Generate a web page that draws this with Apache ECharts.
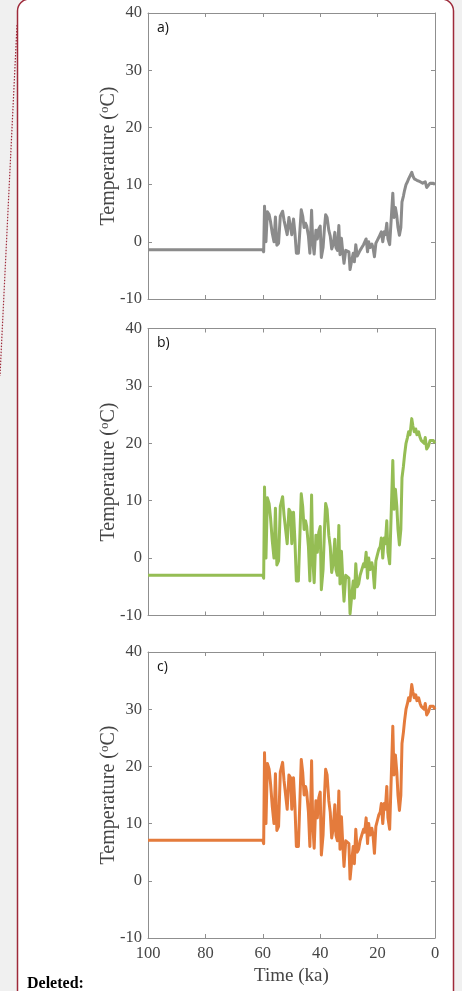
<!DOCTYPE html>
<html>
<head>
<meta charset="utf-8">
<title>Temperature (ka)</title>
<script src="https://cdn.jsdelivr.net/npm/echarts@6/dist/echarts.min.js"></script>
<style>
  html, body { margin: 0; padding: 0; background: #f0f0f0; }
  #chart { width: 462px; height: 991px; }
</style>
</head>
<body>
<div id="chart"></div>
<script>
// Time before present (ka), shared by the three temperature records
const timeKa = [100, 60.0, 59.7, 59.4, 58.9, 58.4, 57.8, 57.3, 56.7, 56.1, 55.6, 55.1, 54.5, 53.9, 53.1, 52.6, 52.0, 51.5, 50.9, 50.3,
  49.9, 49.3, 48.8, 48.3, 47.6, 46.6, 46.1, 45.6, 45.1, 44.7, 44.1, 43.6, 43.0, 42.6, 42.1, 41.5, 41.0, 40.5, 40.0, 39.6,
  39.0, 38.5, 38.1, 37.6, 37.0, 36.5, 36.0, 35.5, 34.9, 34.5, 34.0, 33.5, 33.1, 32.6, 32.1, 31.7, 31.1, 30.6, 30.0, 29.6,
  29.1, 28.5, 28.1, 27.6, 27.1, 26.6, 26.1, 25.5, 24.9, 24.5, 24.0, 23.5, 23.1, 22.6, 22.0, 21.6, 21.1, 20.6, 20.1, 19.6,
  19.1, 18.7, 18.2, 17.7, 17.3, 16.8, 16.4, 15.8, 15.2, 14.7, 14.3, 13.8, 13.3, 12.9, 12.4, 11.9, 11.5, 11.0, 10.6, 10.1,
  9.6, 9.2, 8.7, 8.1, 7.7, 7.2, 6.7, 6.3, 5.7, 5.2, 4.8, 4.3, 3.8, 3.4, 2.9, 2.3, 1.7, 1.2, 0.6, 0];

// a) temperature (°C)
const tempA = [-1.4, -1.4, -1.75, 6.2, 0, 5.25, 4.75, 3.5, 1.5, 0, 4.35, -0.6, -0.25, 4.5, 5.35, 3.75, 3.9, 1.25, 4.25, 4,
  1.25, 4, 1.5, -2, -2, 5.6, 4.5, 2.5, 3.25, 2.75, 1, -2, 5.5, 0, -2.15, 2, 0.5, 2.25, 2.75, -2.75,
  -1, 2.5, 4.75, 4.25, 2, 1, -1.25, -0.5, 1.65, -1, -1.5, 2.85, -2.25, 0.6, -2, -3.75, -1.5, -1.5, -1.75, -4.85,
  -3.5, -2, -3.5, -0.5, -2.5, -2.25, -1.5, -1, -0.5, -0.75, 0.5, -1.75, 0, -1, -0.4, -1, -2.6, -0.25, 0.25, 0.75,
  1, 1.75, 0, 1.75, 1.25, 3.25, 0.5, -0.5, -0.4, 8.5, 4.25, 6, 4.5, 2.5, 1.15, 2.5, 7, 8, 9, 10,
  10.5, 11, 10.75, 12.15, 11.5, 11, 11.25, 10.75, 11, 10.5, 10.25, 10.25, 10, 10.5, 9.5, 9.75, 10.25, 10.4, 10.25, 10];

// b) temperature (°C)
const tempB = [-3.0, -3.0, -3.5, 12.4, 0, 10.5, 9.5, 7, 3, 0, 8.7, -1.2, -0.5, 9, 10.7, 7.5, 7.8, 2.5, 8.5, 8,
  2.5, 8, 3, -4, -4, 11.2, 9, 5, 6.5, 5.5, 2, -4, 11, 0, -4.3, 4, 1, 4.5, 5.5, -5.5,
  -2, 5, 9.5, 8.5, 4, 2, -2.5, -1, 3.3, -2, -3, 5.7, -4.5, 1.2, -4, -7.5, -3, -3, -3.5, -9.7,
  -7, -4, -7, -1, -5, -4.5, -3, -2, -1, -1.5, 1, -3.5, 0, -2, -0.8, -2, -5.2, -0.5, 0.5, 1.5,
  2, 3.5, 0, 3.5, 2.5, 6.5, 1, -1, -0.8, 17, 8.5, 12, 9, 5, 2.3, 5, 14, 16, 18, 20,
  21, 22, 21.5, 24.3, 23, 22, 22.5, 21.5, 22, 21, 20.5, 20.5, 20, 21, 19, 19.5, 20.5, 20.8, 20.5, 20];

// c) temperature (°C)
const tempC = [7.1, 7.1, 6.5, 22.4, 10, 20.5, 19.5, 17, 13, 10, 18.7, 8.8, 9.5, 19, 20.7, 17.5, 17.8, 12.5, 18.5, 18,
  12.5, 18, 13, 6, 6, 21.2, 19, 15, 16.5, 15.5, 12, 6, 21, 10, 5.7, 14, 11, 14.5, 15.5, 4.5,
  8, 15, 19.5, 18.5, 14, 12, 7.5, 9, 13.3, 8, 7, 15.7, 5.5, 11.2, 6, 2.5, 7, 7, 6.5, 0.3,
  3, 6, 3, 9, 5, 5.5, 7, 8, 9, 8.5, 11, 6.5, 10, 8, 9.2, 8, 4.8, 9.5, 10.5, 11.5,
  12, 13.5, 10, 13.5, 12.5, 16.5, 11, 9, 9.2, 27, 18.5, 22, 19, 15, 12.3, 15, 24, 26, 28, 30,
  31, 32, 31.5, 34.3, 33, 32, 32.5, 31.5, 32, 31, 30.5, 30.5, 30, 31, 29, 29.5, 30.5, 30.8, 30.5, 30];

const panelLabels = ['a)', 'b)', 'c)'];
const xTicks = { min: 0, max: 100, interval: 20 };
const yTicks = { min: -10, max: 40, interval: 10 };

const records = [tempA, tempB, tempC];
const colors = ['#8b8b8b', '#95bd54', '#e47b3c'];
const grids = [
  { left: 148, top: 13, width: 287, height: 286 },
  { left: 148, top: 328.5, width: 287, height: 287 },
  { left: 148, top: 652, width: 287, height: 286 }
];

const serif = '"Liberation Serif", "Times New Roman", serif';
const axisGray = '#8f8f8f';
const textGray = '#454545';
const borderRed = '#9e2a3a';

const xAxes = [], yAxes = [], series = [], graphics = [];

grids.forEach((g, i) => {
  const last = i === grids.length - 1;
  const baseX = {
    gridIndex: i, type: 'value', inverse: true,
    min: xTicks.min, max: xTicks.max, interval: xTicks.interval,
    axisLine: { show: true, onZero: false, lineStyle: { color: axisGray, width: 1 } },
    axisTick: { show: true, inside: true, length: 4, lineStyle: { color: axisGray } },
    splitLine: { show: false }
  };
  xAxes.push(Object.assign({}, baseX, {
    position: 'bottom',
    axisLabel: { show: last, margin: 7, color: textGray, fontFamily: serif, fontSize: 16.5 },
    name: last ? 'Time (ka)' : '',
    nameLocation: 'middle', nameGap: 29, nameMoveOverlap: false,
    nameTextStyle: { color: textGray, fontFamily: serif, fontSize: 19 }
  }));
  xAxes.push(Object.assign({}, baseX, { position: 'top', axisLabel: { show: false } }));

  const baseY = {
    gridIndex: i, type: 'value',
    min: yTicks.min, max: yTicks.max, interval: yTicks.interval,
    axisLine: { show: true, onZero: false, lineStyle: { color: axisGray, width: 1 } },
    axisTick: { show: true, inside: true, length: 4, lineStyle: { color: axisGray } },
    splitLine: { show: false }
  };
  yAxes.push(Object.assign({}, baseY, {
    position: 'left',
    axisLabel: { show: true, margin: 6, color: textGray, fontFamily: serif, fontSize: 16.5 },
    name: 'Temperature ({sup|o}C)',
    nameLocation: 'middle', nameGap: 28, nameMoveOverlap: false,
    nameTextStyle: {
      color: textGray, fontFamily: serif, fontSize: 20, lineHeight: 22,
      rich: { sup: { fontSize: 13, fontFamily: serif, color: textGray, verticalAlign: 'top', lineHeight: 13 } }
    }
  }));
  yAxes.push(Object.assign({}, baseY, { position: 'right', axisLabel: { show: false } }));

  series.push({
    type: 'line',
    xAxisIndex: i * 2, yAxisIndex: i * 2,
    data: timeKa.map((t, k) => [t, records[i][k]]),
    showSymbol: false,
    lineStyle: { color: colors[i], width: 3, join: 'round' },
    itemStyle: { color: colors[i] },
    silent: true, animation: false, z: 3
  });

  graphics.push({
    type: 'text', left: g.left + 9, top: g.top + 8, z: 10,
    style: { text: panelLabels[i], fill: '#111', font: '14px "Open Sans", "Liberation Sans", sans-serif' }
  });
});

// Page frame: rounded revision box, dotted connector and the margin note
const frame = [
  {
    type: 'rect', z: -10, silent: true,
    shape: { x: 17.5, y: -1, width: 436, height: 1030, r: 12 },
    style: { fill: '#ffffff', stroke: borderRed, lineWidth: 1.5 }
  },
  {
    type: 'line', z: -9, silent: true,
    shape: { x1: 17, y1: 25, x2: 0, y2: 376 },
    style: { stroke: borderRed, lineWidth: 1.2, lineDash: [1.5, 1.5] }
  },
  {
    type: 'text', left: 27, top: 976, z: 10,
    style: { text: 'Deleted:', fill: '#000', font: 'bold 16px "Liberation Serif", "Times New Roman", serif' }
  }
];

const chart = echarts.init(document.getElementById('chart'), null, { renderer: 'canvas' });
chart.setOption({
  backgroundColor: '#f0f0f0',
  animation: false,
  grid: grids,
  xAxis: xAxes,
  yAxis: yAxes,
  series: series,
  graphic: frame.concat(graphics)
});
</script>
</body>
</html>
